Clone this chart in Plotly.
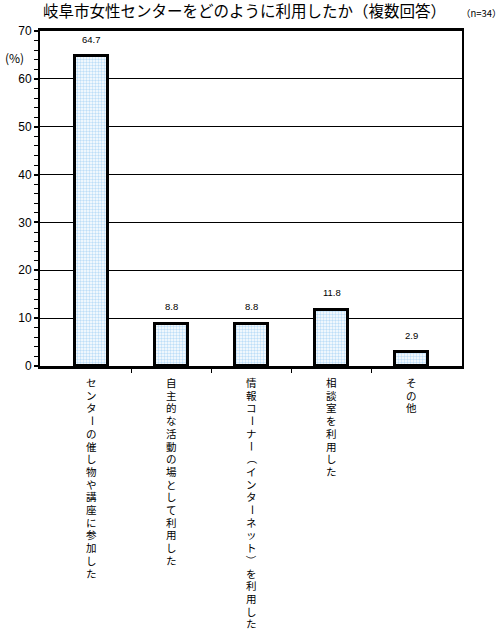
import plotly.graph_objects as go

# data
categories = [
    "センターの催し物や講座に参加した",
    "自主的な活動の場として利用した",
    "情報コーナー（インターネット）を利用した",
    "相談室を利用した",
    "その他",
]
values = [64.7, 8.8, 8.8, 11.8, 2.9]
y_ticks = [0, 10, 20, 30, 40, 50, 60, 70]

title = "岐阜市女性センターをどのように利用したか（複数回答）"
n_note = "（n=34）"

JP = "Noto Sans CJK JP"
LABEL_FONT = "Liberation Sans, Noto Sans CJK JP"

# characters that turn sideways when the label is written top-to-bottom
rotate_chars = set("ー（）")

xs = list(range(len(categories)))

fig = go.Figure()
fig.add_trace(go.Bar(
    x=xs, y=values, width=0.41,
    marker=dict(color="white",
                line=dict(color="black", width=3),
                pattern=dict(shape=".", fgcolor="#7dbdf0", bgcolor="white",
                             size=3, solidity=0.5)),
    showlegend=False, hoverinfo="skip",
))

# value labels over the bars
for x, v in zip(xs, values):
    fig.add_annotation(x=x, y=v, text=f"{v:.1f}", showarrow=False,
                       yshift=17, font=dict(family="Liberation Sans", size=9.5,
                                            color="black"))

# vertical (tategaki) category labels, one character at a time
for x, label in zip(xs, categories):
    for i, ch in enumerate(label):
        fig.add_annotation(x=x, y=0, text=ch, showarrow=False,
                           yanchor="middle", yshift=-(17 + 12.7 * i),
                           textangle=90 if ch in rotate_chars else 0,
                           font=dict(family=LABEL_FONT, size=10.5,
                                     color="black"))

fig.add_annotation(xref="paper", yref="paper", x=-0.088, y=0.952,
                   xanchor="left", text="(%)", showarrow=False,
                   font=dict(family=JP, size=12, color="black"))
fig.add_annotation(xref="paper", yref="paper", x=0.993, y=1.054,
                   xanchor="left", yanchor="middle", text=n_note,
                   showarrow=False, font=dict(family=JP, size=9.5, color="black"))

fig.update_layout(
    width=501, height=636,
    margin=dict(l=40, r=39, t=31, b=270, autoexpand=False),
    paper_bgcolor="white", plot_bgcolor="white",
    title=dict(text=title, xref="paper", x=0.007, xanchor="left",
               y=0.982, yanchor="middle",
               font=dict(family=JP, size=15.5, color="black")),
    font=dict(family=JP, color="black"),
    bargap=0,
)

fig.update_xaxes(
    range=[-0.644, len(categories) - 1 + 0.631],
    showticklabels=False, ticks="", automargin=False,
    showgrid=False, zeroline=False,
    showline=True, linecolor="black", linewidth=3, mirror=True,
    minor=dict(tickvals=[x + 0.5 for x in xs[:-1]], ticks="outside",
               ticklen=4, tickwidth=1, tickcolor="black", showgrid=False),
)

fig.update_yaxes(
    range=[0, 70], tickvals=y_ticks, automargin=False,
    ticks="outside", ticklen=4, tickwidth=2, tickcolor="black",
    tickfont=dict(family="Liberation Sans", size=12, color="black"),
    showgrid=True, gridcolor="black", gridwidth=1, zeroline=False,
    showline=True, linecolor="black", linewidth=2, mirror=True,
    minor=dict(dtick=2, ticks="outside", ticklen=4, tickwidth=1,
               tickcolor="black", showgrid=False),
)

# the page's default body margin would push the chart 8px down and right
fig.write_html("out.html", config={"displayModeBar": False},
               post_script="document.body.style.margin = '0';")
